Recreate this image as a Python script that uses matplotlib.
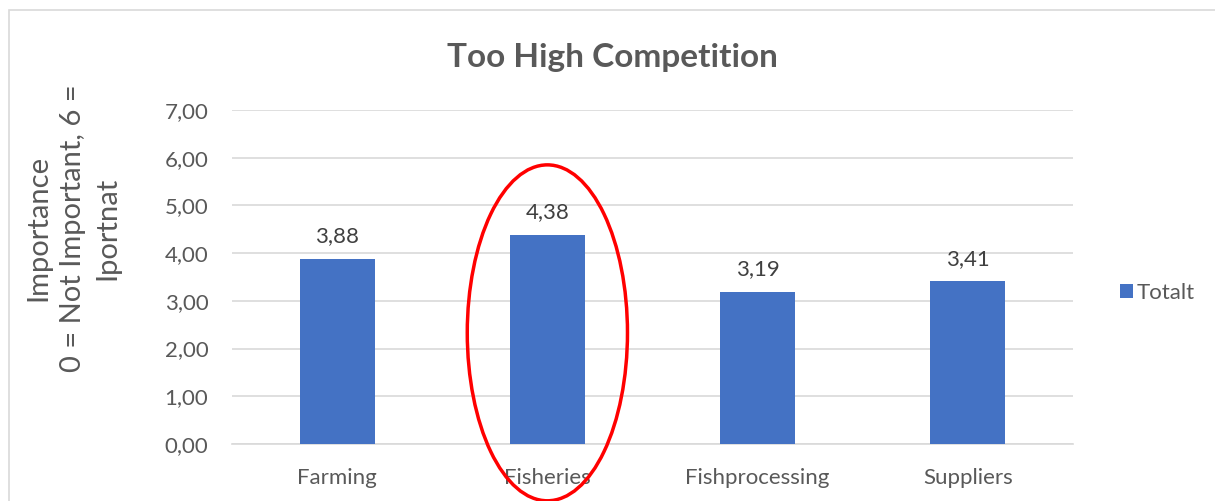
import matplotlib
matplotlib.use('Agg')
import matplotlib.pyplot as plt
from matplotlib.patches import Ellipse, Rectangle

categories = ['Farming', 'Fisheries', 'Fishprocessing', 'Suppliers']
totalt = [3.88, 4.38, 3.19, 3.41]
yticks = [0, 1, 2, 3, 4, 5, 6, 7]

bar_color = '#4472C4'
text_color = '#595959'
grid_color = '#d9d9d9'

plt.rcParams['font.family'] = ['Lato', 'DejaVu Sans']

fig = plt.figure(figsize=(12.15, 5.01), dpi=100)
ax = fig.add_axes([232 / 1215, 1 - 444 / 501, (1073 - 232) / 1215, (444 - 110) / 501])

# outer chart frame
fig.patches.append(Rectangle((9 / 1215, -0.1), 1.2, 1 - 10 / 501 + 0.1,
                             transform=fig.transFigure, fill=False,
                             edgecolor='#d9d9d9', linewidth=1.2))

x = list(range(len(categories)))
bars = ax.bar(x, totalt, width=0.357, color=bar_color, zorder=3, label='Totalt')

for xi, v in zip(x, totalt):
    ax.annotate(f'{v:.2f}'.replace('.', ','), (xi, v), xytext=(0, 9),
                textcoords='offset points', ha='center', va='bottom',
                fontsize=16, color='#404040')

ax.set_xlim(-0.5, len(categories) - 0.5)
ax.set_ylim(0, 7)
ax.set_yticks(yticks)
ax.set_yticklabels([f'{t:.2f}'.replace('.', ',') for t in yticks])
ax.set_xticks(x)
ax.set_xticklabels(categories)
ax.tick_params(axis='both', length=0, labelsize=16, labelcolor=text_color)
ax.tick_params(axis='y', pad=17)
ax.tick_params(axis='x', pad=17)
ax.grid(axis='y', color=grid_color, linewidth=1.2, zorder=0)
for s in ['top', 'right', 'left']:
    ax.spines[s].set_visible(False)
ax.spines['bottom'].set_color(grid_color)
ax.spines['bottom'].set_linewidth(1.2)

fig.text(73 / 1215, 1 - 228 / 501, 'Importance\n0 = Not Important, 6 =\nIportnat',
         rotation=90, ha='center', va='center', multialignment='center',
         fontsize=21, color=text_color, linespacing=1.4)

fig.text(612 / 1215, 1 - 57 / 501, 'Too High Competition', ha='center',
         va='center', fontsize=24, fontweight='bold', color=text_color)

# highlight around the Fisheries bar
ax.add_patch(Ellipse((1, 2.33), 0.762, 7.04, fill=False, edgecolor='red',
                     linewidth=2.5, zorder=4, clip_on=False))

fig.legend(handles=[bars], labels=['Totalt'], loc='center left',
           bbox_to_anchor=(1100 / 1215, 1 - 293 / 501), frameon=False,
           fontsize=16, handlelength=0.6, handleheight=0.6, handletextpad=0.15,
           labelcolor=text_color)

fig.savefig('out.png', dpi=100)
